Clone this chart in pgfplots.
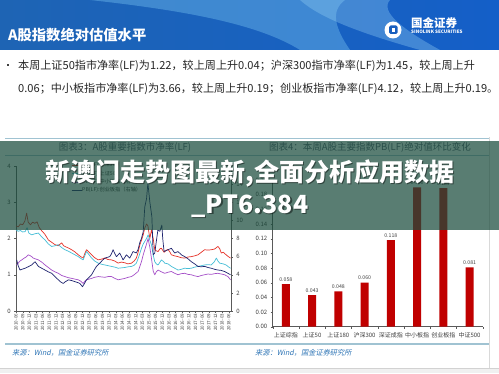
\documentclass[border=0pt]{standalone}
\usepackage{pgfplots}
\pgfplotsset{compat=1.18}
\usepackage{fontspec}
\setmainfont{Noto Sans CJK SC}
\newfontfamily\srcfont{Noto Sans CJK SC}[FakeSlant=0.2]
\definecolor{lred}{RGB}{230,50,40}
\definecolor{lcyan}{RGB}{70,190,215}
\definecolor{lpurple}{RGB}{165,80,200}
\definecolor{lnavy}{RGB}{30,35,110}
\definecolor{barred}{RGB}{192,0,0}
\definecolor{ovl}{RGB}{26,75,60}
\definecolor{titlecol}{RGB}{80,90,110}
\definecolor{srcblue}{RGB}{46,117,182}
\definecolor{rule}{RGB}{160,195,210}
\definecolor{axcol}{RGB}{90,90,90}
\definecolor{banL}{RGB}{30,100,180}
\definecolor{banR}{RGB}{20,95,200}
\definecolor{swA}{RGB}{110,185,235}
\definecolor{swB}{RGB}{150,210,245}
\definecolor{logob}{RGB}{25,95,190}
\begin{document}
\begin{tikzpicture}[x=1pt,y=1pt]
\useasboundingbox (0,0) rectangle (499,373);
\fill[white] (0,0) rectangle (499,373);
% banner
\shade[left color=banL, right color=banR] (0,323) rectangle (499,373);
\fill[swA, opacity=0.45] (90,373) .. controls (190,362) and (260,348) .. (300,323) -- (350,323) .. controls (335,345) and (330,362) .. (345,373) -- cycle;
\fill[swB, opacity=0.35] (300,373) .. controls (320,355) and (360,340) .. (420,323) -- (440,323) .. controls (400,345) and (380,362) .. (390,373) -- cycle;
\node[anchor=base west, text=white, font=\bfseries\fontsize{14.3}{16}\selectfont, inner sep=0] at (8,332) {A股指数绝对估值水平};
% logo
\fill[white] (393,343) circle (8.5);
\fill[logob, rounded corners=1.5pt] (389,339) rectangle (397.5,347.5);
\fill[white] (391.5,341) rectangle (395,345);
\node[anchor=west, text=white, font=\bfseries\fontsize{11.5}{12}\selectfont, inner sep=0] at (411,350) {国金证券};
\node[anchor=west, text=white, font=\bfseries\fontsize{4.6}{5}\selectfont, inner sep=0] at (411,341.5) {SINOLINK SECURITIES};
% bullet text
\fill[black!75] (6.5,307) rectangle (8.5,309);
\node[anchor=base west, inner sep=0, text=black!85, font=\fontsize{11.1}{12}\selectfont] at (18,303) {本周上证50指市净率(LF)为1.22，较上周上升0.04；沪深300指市净率(LF)为1.45，较上周上升};
\node[anchor=base west, inner sep=0, text=black!85, font=\fontsize{11.1}{12}\selectfont] at (18,280) {0.06；中小板指市净率(LF)为3.66，较上周上升0.19；创业板指市净率(LF)4.12，较上周上升0.19。};
% panel rules
\draw[rule, line width=0.8pt] (5,235) -- (489,235);
\draw[rule, line width=0.6pt] (5,218) -- (489,218);
\draw[rule, line width=1.2pt] (5,29) -- (489,29);
\draw[gray!30, line width=0.5pt] (489,5) -- (489,236);
\fill[gray!12] (0,0) rectangle (499,5);
\draw[gray!35] (0,5) -- (499,5);
\node[text=titlecol, font=\fontsize{9.5}{10}\selectfont] at (125,226) {图表3：A股重要指数市净率(LF)};
\node[text=titlecol, font=\fontsize{9.5}{10}\selectfont] at (370,226) {图表4：本周A股主要指数PB(LF)绝对值环比变化};
\node[anchor=west, inner sep=0, text=srcblue, font=\srcfont\fontsize{7.2}{8}\selectfont] at (12,20) {来源：Wind，国金证券研究所};
\node[anchor=west, inner sep=0, text=srcblue, font=\srcfont\fontsize{7.2}{8}\selectfont] at (255,20) {来源：Wind，国金证券研究所};

% ---------- left line chart ----------
\begin{axis}[at={(16pt,62pt)}, anchor=south west, scale only axis,
  width=215pt, height=145pt, xmin=0, xmax=97, ymin=0, ymax=4,
  axis x line*=bottom, axis y line*=left,
  axis line style={-, axcol, line width=0.6pt},
  tick align=outside, major tick length=1.8pt, tick style={axcol},
  ytick={0,1,2,3,4}, xtick={0,3,...,96},
  xticklabels={2010-06,2010-09,2010-12,2011-03,2011-06,2011-09,2011-12,2012-03,2012-06,2012-09,2012-12,2013-03,2013-06,2013-09,2013-12,2014-03,2014-06,2014-09,2014-12,2015-03,2015-06,2015-09,2015-12,2016-03,2016-06,2016-09,2016-12,2017-03,2017-06,2017-09,2017-12,2018-03,2018-06},
  xticklabel style={rotate=90, anchor=east, font=\fontsize{4.5}{5}\selectfont, text=black!75, inner sep=1pt},
  yticklabel style={font=\fontsize{6}{7}\selectfont, text=black!75},
  /pgf/number format/assume math mode=true,
  every axis plot/.append style={line width=0.7pt, line join=round}]
\addplot[lred, mark=none] table {
0 2.35
1 2.32
2 2.40
3 2.38
4 2.48
4.8 2.70
5.5 2.45
6.5 2.38
7.5 2.45
8.5 2.42
9.5 2.46
10.5 2.30
11.5 2.22
13 2.12
14.6 1.96
16 1.90
17.6 1.83
19 1.80
20.6 1.88
21.5 1.80
22.1 1.78
23.6 1.74
25.1 1.69
26.6 1.63
28.1 1.55
29.2 1.50
30.3 1.46
31 1.58
31.8 1.69
33 1.62
34.1 1.55
35.5 1.47
37.1 1.41
38.5 1.43
40.1 1.46
41.5 1.42
43.1 1.41
44.5 1.38
46.1 1.32
47.5 1.35
49.1 1.33
50.5 1.30
52.1 1.32
53.3 1.38
54.3 1.46
55.1 1.62
55.9 1.83
56.6 1.95
57.4 2.10
58.1 2.29
58.9 2.40
59.5 2.35
60.4 2.00
61.1 2.24
61.9 2.00
62.6 1.69
63.3 1.66
64.1 1.64
65 1.72
65.6 1.73
66.8 1.62
67.6 1.67
68.6 1.70
69.5 1.62
70.1 1.55
71.6 1.52
73.1 1.50
74.5 1.47
76.1 1.46
77.6 1.49
79.1 1.50
80.5 1.52
82.1 1.55
83.6 1.62
85.1 1.69
86.6 1.68
88.1 1.69
89.6 1.71
91.1 1.78
91.9 1.72
92.6 1.60
93.5 1.62
94.8 1.55
95.8 1.50
96.8 1.46
};
\addplot[lcyan, mark=none] table {
0 2.24
1 2.20
2 2.22
3 2.18
4.1 2.19
5 2.30
5.8 2.15
7.1 2.10
8.5 2.13
10.1 2.15
11.5 2.05
13.1 1.96
14.6 1.85
16.1 1.78
17.6 1.80
19.1 1.83
20.6 1.75
22.1 1.69
23.6 1.65
25.1 1.60
26.6 1.55
28.1 1.50
29.5 1.44
30.3 1.41
31 1.52
31.8 1.64
33 1.55
34.1 1.46
35.5 1.38
37.1 1.32
38.6 1.29
40.1 1.27
41.6 1.25
43.1 1.23
44.6 1.21
46.1 1.18
47.6 1.19
49.1 1.20
50.6 1.22
52.1 1.23
53.3 1.26
54.3 1.32
55.4 1.50
56.6 1.73
57.4 1.85
58.1 1.92
58.9 2.00
59.6 2.10
60.4 1.95
61.1 1.83
61.9 1.55
62.6 1.36
63.3 1.30
64.1 1.27
65.6 1.41
66.8 1.35
67.1 1.32
68.6 1.30
70.1 1.23
71.6 1.18
73.1 1.13
74.6 1.15
76.1 1.18
77.6 1.17
79.1 1.18
80.6 1.21
82.1 1.23
83.6 1.25
85.1 1.27
86.6 1.28
88.1 1.27
89.4 1.35
90.4 1.46
91.1 1.38
91.9 1.32
93.5 1.30
94.8 1.27
95.8 1.22
96.8 1.18
};
\end{axis}

\begin{axis}[at={(16pt,62pt)}, anchor=south west, scale only axis,
  width=215pt, height=145pt, xmin=0, xmax=97, ymin=0, ymax=16,
  axis x line=none, axis y line*=right,
  axis line style={-, axcol, line width=0.6pt},
  tick align=outside, major tick length=1.8pt, tick style={axcol},
  ytick={0,2,4,6,8,10,12,14},
  yticklabel style={font=\fontsize{6}{7}\selectfont, text=black!75},
  /pgf/number format/assume math mode=true,
  every axis plot/.append style={line width=0.7pt, line join=round},
  legend style={at={(0.242,1.041)}, anchor=north west, draw=none, fill=none,
    font=\fontsize{5.2}{6}\selectfont, row sep=1.8pt, text=black!80,
    nodes={inner sep=0.3pt}},
  legend cell align=left,
  legend image code/.code={\draw[#1, line width=0.7pt] (0pt,0pt) -- (10pt,0pt);}]
\addlegendimage{lred}
\addlegendentry{PB(LF):沪深300}
\addlegendimage{lcyan}
\addlegendentry{PB(LF):上证50}
\addplot[lpurple, mark=none] table {
0.3 5.08
1 5.28
1.8 5.52
2.6 5.64
3.5 5.80
4.8 6.00
5.5 6.20
6.3 6.12
7.1 6.00
7.8 5.84
8.6 5.76
10.1 5.64
11.6 5.40
13.1 5.08
14.6 4.80
16.1 4.52
17.6 4.32
19.1 4.16
20.6 3.92
22.1 3.80
23.6 3.68
25.1 3.60
26.6 3.52
28.1 3.44
29.3 3.28
30.3 3.04
31 3.28
31.8 3.44
33 3.52
34.1 3.60
35.5 3.72
37.1 3.80
38.6 3.76
40.1 3.72
41.6 3.80
43.1 3.80
44.6 3.60
46.1 3.44
47.6 3.52
49.1 3.60
50.6 3.72
52.1 3.80
53.3 4.00
55.1 4.36
56.6 5.44
57.4 6.20
58.1 6.76
58.9 7.40
59.6 8.00
60.4 7.00
61.1 5.84
61.9 4.40
62.6 4.00
63.3 4.32
64.1 4.52
65.6 4.32
67.1 4.16
68.6 4.28
70.1 4.36
71.6 4.16
73.1 4.00
74.6 4.12
76.1 4.16
77.6 4.04
79.1 4.00
80.6 3.88
82.1 3.80
83.6 3.92
85.1 4.00
86.6 4.08
88.1 4.04
89.6 4.12
91.1 4.16
92.6 4.08
94.1 4.00
95.6 3.80
96.8 3.44
};
\addlegendentry{PB(LF):中小板指（右轴）}
\addplot[lnavy, mark=none] table {
0.3 5.64
1 5.00
1.8 4.52
2.6 4.60
4.1 4.72
5.5 4.88
7.1 5.08
8.6 5.44
9.3 5.20
10.1 4.92
11.6 4.72
13.1 4.52
14.6 4.32
16.1 4.16
17.6 3.80
19.1 3.44
20.2 3.20
21.3 3.04
22.1 3.20
23.6 3.44
25.1 3.36
26.6 3.24
28.1 3.12
28.8 3.04
30 2.68
30.8 3.00
31.8 3.44
33 3.72
34.1 4.00
35.2 4.48
36.3 4.92
37.8 5.28
39 5.60
40.1 5.84
41.2 5.92
42.3 6.00
43.1 6.32
43.8 6.76
44.6 6.32
45.3 6.00
46.1 6.20
46.8 6.40
47.6 6.00
48.3 5.64
49.1 5.92
49.8 6.20
50.6 6.00
51.3 5.84
52.1 6.20
52.8 6.56
54.3 6.40
55.1 6.80
55.9 7.60
56.6 8.00
57.4 8.76
58.1 11.48
58.9 12.40
59.5 14.12
60.4 12.00
61.3 10.40
61.7 7.60
61.9 6.20
62.6 6.40
64.0 8.92
64.9 8.80
65.8 9.48
66.2 8.00
66.8 6.56
68.6 6.76
70.1 6.92
71.6 6.40
73.1 6.56
74.6 6.20
76.1 6.00
77.6 5.76
79.1 5.44
80.6 5.20
82.1 4.92
83.6 4.88
85.1 4.92
86.6 4.80
88.1 4.72
89.6 4.60
91.1 4.52
92.6 4.48
94.1 4.36
95.6 4.16
96.8 4.00
};
\addlegendentry{PB(LF):创业板指（右轴）}
\end{axis}

% ---------- right bar chart ----------
\begin{axis}[at={(272.7pt,46.3pt)}, anchor=south west, scale only axis,
  width=210pt, height=146.7pt, xmin=-0.5, xmax=7.5, ymin=0, ymax=0.2,
  ybar, bar width=8pt,
  axis x line*=bottom, axis y line*=left,
  axis line style={-, axcol, line width=0.6pt},
  tick align=outside, major tick length=2pt, tick style={axcol},
  xtick={0,...,7},
  xticklabels={上证综指,上证50,上证180,沪深300,深证成指,中小板指,创业板指,中证500},
  major x tick style={draw=none},
  minor xtick={-0.5,0.5,1.5,2.5,3.5,4.5,5.5,6.5,7.5},
  minor tick length=2.2pt, minor x tick style={axcol},
  xticklabel style={font=\fontsize{6}{7}\selectfont, text=black!75},
  ytick={0,0.02,0.04,0.06,0.08,0.10,0.12,0.14,0.16,0.18,0.20},
  yticklabel style={font=\fontsize{6}{7}\selectfont, text=black!75, /pgf/number format/.cd, fixed, fixed zerofill, precision=2},
  /pgf/number format/assume math mode=true,
  nodes near coords={\pgfmathprintnumber[fixed,fixed zerofill,precision=3,assume math mode=true]{\pgfplotspointmeta}},
  nodes near coords style={font=\fontsize{5.2}{6}\selectfont, text=black!75, inner sep=2.5pt}]
\addplot[fill=barred, draw=none] coordinates {
(0,0.058) (1,0.043) (2,0.048) (3,0.060) (4,0.118) (5,0.190) (6,0.189) (7,0.081)};
\end{axis}

% ---------- overlay ----------
\fill[ovl, opacity=0.72] (0,143) rectangle (499,232);
\node[anchor=base, inner sep=0, text=black, opacity=0.45, font=\bfseries\fontsize{25}{28}\selectfont] at (251.2,190) {新澳门走势图最新,全面分析应用数据};
\node[anchor=base, inner sep=0, text=white, font=\bfseries\fontsize{25}{28}\selectfont] at (250,191) {新澳门走势图最新,全面分析应用数据};
\node[anchor=base, inner sep=0, text=black, opacity=0.45, font=\bfseries\fontsize{25}{28}\selectfont] at (251.2,158) {\_PT6.384};
\node[anchor=base, inner sep=0, text=white, font=\bfseries\fontsize{25}{28}\selectfont] at (250,159) {\_PT6.384};
\end{tikzpicture}
\end{document}
